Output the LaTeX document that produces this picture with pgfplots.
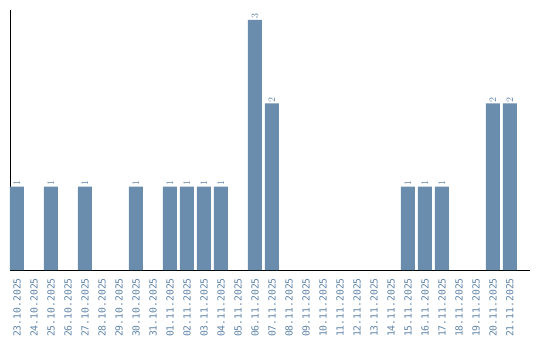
\documentclass[border=0pt]{standalone}
\usepackage{pgfplots}
\pgfplotsset{compat=1.18}
\usepackage{fontspec}
\setmainfont{DejaVu Sans}
\setmonofont{DejaVu Sans Mono}
\definecolor{barc}{HTML}{6A8CAD}
\definecolor{txtc}{HTML}{6084A8}
\begin{document}
\begin{tikzpicture}
\begin{axis}[
  scale only axis,
  width=520bp, height=260bp,
  xmin=-0.41, xmax=30.18,
  ymin=0, ymax=3.12,
  axis x line=bottom, axis y line=left,
  axis line style={black, line width=0.9bp, -},
  ytick=\empty,
  xtick={0,...,29},
  major tick length=0pt,
  xticklabels={23.10.2025,24.10.2025,25.10.2025,26.10.2025,27.10.2025,28.10.2025,29.10.2025,30.10.2025,31.10.2025,01.11.2025,02.11.2025,03.11.2025,04.11.2025,05.11.2025,06.11.2025,07.11.2025,08.11.2025,09.11.2025,10.11.2025,11.11.2025,12.11.2025,13.11.2025,14.11.2025,15.11.2025,16.11.2025,17.11.2025,18.11.2025,19.11.2025,20.11.2025,21.11.2025},
  xticklabel style={rotate=90, anchor=east, font=\ttfamily\fontsize{9.8}{12}\selectfont, text=txtc, inner sep=0pt, xshift=-8bp},
  clip=false,
]
\addplot[ybar, bar width=14bp, fill=barc, draw=none,
  nodes near coords,
  every node near coord/.append style={rotate=90, anchor=west, font=\ttfamily\fontsize{9.8}{12}\selectfont, text=txtc, inner sep=1bp},
] coordinates {
(0,1) (2,1) (4,1) (7,1) (9,1) (10,1) (11,1) (12,1) (14,3) (15,2) (23,1) (24,1) (25,1) (28,2) (29,2)
};
\end{axis}
\pgfresetboundingbox
\path (current axis.south west) ++(-10bp,-70bp) coordinate (bl);
\path (current axis.south west) ++(530bp,270bp) coordinate (tr);
\useasboundingbox (bl) rectangle (tr);
\end{tikzpicture}
\end{document}
